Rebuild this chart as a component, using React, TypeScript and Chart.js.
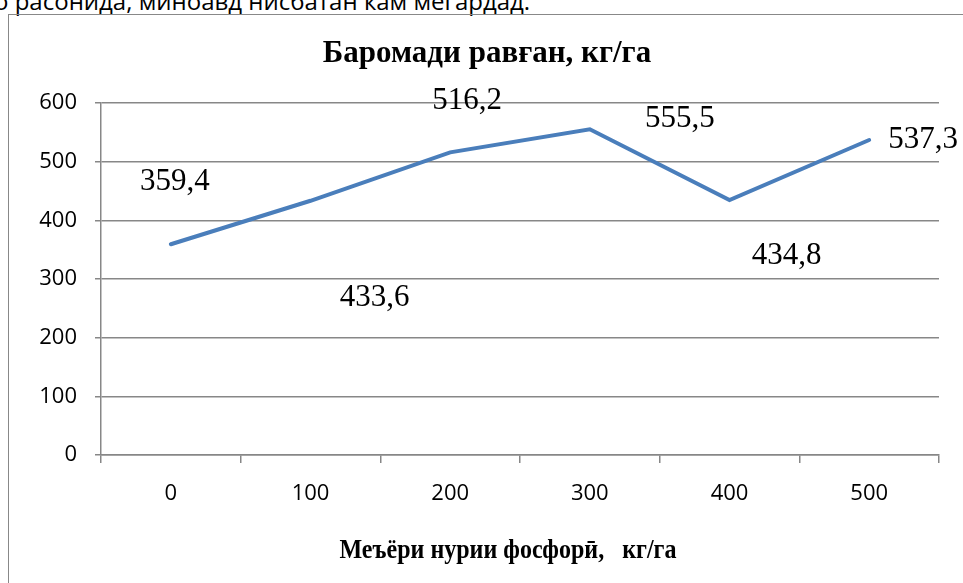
import React, { useEffect, useRef } from 'react';
import { Chart, registerables } from 'chart.js';

Chart.register(...registerables);

// ---- data ----
const categories = ['0', '100', '200', '300', '400', '500'];
const yieldValues = [359.4, 433.6, 516.2, 555.5, 434.8, 537.3];
const valueLabels = ['359,4', '433,6', '516,2', '555,5', '434,8', '537,3'];
const yMin = 0;
const yMax = 600;
const yStep = 100;
const chartTitle = 'Баромади равған, кг/га';
const xAxisTitle = 'Меъёри нурии фосфорӣ,   кг/га';
const paragraphTail = 'о расонида, миноавд нисбатан кам мегардад.';

const SERIF = "'Liberation Serif', 'Times New Roman', 'DejaVu Serif', serif";
const SANS = "'Open Sans', 'Noto Sans', sans-serif";
const GRID = '#878787';

// manually placed data labels (offsets from the point, in px)
const manualLabelsPlugin = {
  id: 'manualLabels',
  afterDatasetsDraw(chart: any, _args: any, opts: any) {
    const meta = chart.getDatasetMeta(0);
    const ctx = chart.ctx;
    ctx.save();
    ctx.font = `${opts.size}px ${SERIF}`;
    ctx.fillStyle = '#000';
    ctx.textAlign = 'center';
    ctx.textBaseline = 'middle';
    meta.data.forEach((pt: any, i: number) => {
      const off = opts.offsets[i] || [0, 0];
      ctx.fillText(valueLabels[i], pt.x + off[0], pt.y + off[1]);
    });
    ctx.restore();
  },
};

// x-axis title, slightly condensed and manually placed below the x scale
const axisTitlePlugin = {
  id: 'axisTitle',
  afterDraw(chart: any, _args: any, opts: any) {
    const ctx = chart.ctx;
    const xs = chart.scales.x;
    ctx.save();
    ctx.translate((xs.left + xs.right) / 2 + opts.dx, xs.bottom - opts.fromBottom);
    ctx.scale(opts.condense, 1);
    ctx.font = `bold ${opts.size}px ${SERIF}`;
    ctx.fillStyle = '#000';
    ctx.textAlign = 'center';
    ctx.textBaseline = 'alphabetic';
    ctx.fillText(xAxisTitle, 0, 0);
    ctx.restore();
  },
};

export default function App() {
  const ref = useRef<HTMLCanvasElement>(null);

  useEffect(() => {
    if (!ref.current) return;
    const chart = new Chart(ref.current, {
      type: 'line',
      data: {
        labels: categories,
        datasets: [
          {
            data: yieldValues,
            borderColor: '#4a7ebb',
            backgroundColor: '#4a7ebb',
            borderWidth: 4,
            pointRadius: 0,
            tension: 0,
            fill: false,
            borderCapStyle: 'round',
            borderJoinStyle: 'miter',
          },
        ],
      },
      options: {
        responsive: false,
        animation: false,
        layout: { padding: { left: 35, right: 24, top: 0, bottom: 0 } },
        plugins: {
          legend: { display: false },
          tooltip: { enabled: false },
          title: {
            display: true,
            text: chartTitle,
            color: '#000',
            font: { family: SERIF, size: 31, weight: 'bold' },
            padding: { top: 35, bottom: 31 },
          },
          manualLabels: {
            size: 31,
            offsets: [
              [4, -62],
              [64, 97],
              [17, -51],
              [90, -10],
              [57, 56],
              [54, 0],
            ],
          },
          axisTitle: { size: 27, condense: 0.89, dx: -12, fromBottom: 25 },
        } as any,
        scales: {
          x: {
            type: 'category',
            offset: true,
            grid: {
              offset: true,
              drawOnChartArea: false,
              drawTicks: true,
              tickLength: 8,
              color: GRID,
              lineWidth: 1.5,
            },
            border: { color: GRID, width: 1.5 },
            ticks: {
              color: '#000',
              font: { family: SANS, size: 22 },
              padding: 18,
              maxRotation: 0,
            },
            title: { display: false },
            afterFit: (s: any) => {
              s.height = 128;
            },
          },
          y: {
            min: yMin,
            max: yMax,
            ticks: {
              stepSize: yStep,
              color: '#000',
              font: { family: SANS, size: 22 },
              padding: 18,
            },
            grid: { color: GRID, lineWidth: 1.5, tickLength: 6 },
            border: { color: GRID, width: 1.5 },
            afterFit: (s: any) => {
              s.width = 66;
            },
          },
        },
      } as any,
      plugins: [manualLabelsPlugin, axisTitlePlugin],
    });
    return () => chart.destroy();
  }, []);

  return (
    <div
      style={{
        position: 'fixed',
        left: 0,
        top: 0,
        width: 963,
        height: 583,
        overflow: 'hidden',
        background: '#fff',
      }}
    >
      <div
        style={{
          position: 'absolute',
          left: -6,
          top: -11.3,
          fontFamily: SANS,
          fontSize: 24,
          lineHeight: '24px',
          whiteSpace: 'nowrap',
          color: '#000',
        }}
      >
        {paragraphTail}
      </div>
      <div
        style={{
          position: 'absolute',
          left: 8,
          top: 14,
          width: 2000,
          height: 2000,
          border: '1px solid #888',
          boxSizing: 'border-box',
        }}
      />
      <canvas
        ref={ref}
        width={963}
        height={583}
        style={{ position: 'absolute', left: 0, top: 0, width: 963, height: 583 }}
      />
    </div>
  );
}
